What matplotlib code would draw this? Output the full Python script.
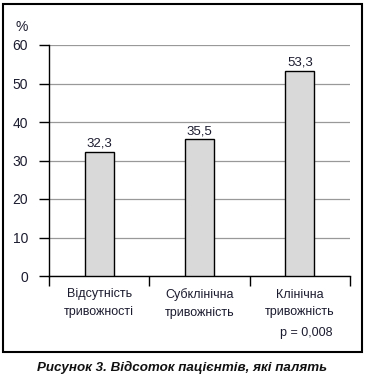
import matplotlib
matplotlib.use("Agg")
import matplotlib.pyplot as plt
from matplotlib.patches import Rectangle

categories = ["Відсутність\nтривожності", "Субклінічна\nтривожність", "Клінічна\nтривожність"]
values = [32.3, 35.5, 53.3]
value_labels = ["32,3", "35,5", "53,3"]
y_ticks = [0, 10, 20, 30, 40, 50, 60]

plt.rcParams['font.family'] = ['Liberation Sans', 'DejaVu Sans']
text_color = '#1c1c30'

fig = plt.figure(figsize=(3.65, 3.76), dpi=100)
ax = fig.add_axes([49 / 365, 1 - 276 / 376, 301 / 365, 231 / 376])

x = range(len(categories))
ax.bar(x, values, width=0.29, color='#d9d9d9', edgecolor='black', linewidth=1, zorder=3)
for xi, v, lab in zip(x, values, value_labels):
    ax.text(xi, v + 0.6, lab, ha='center', va='bottom', fontsize=9.5, color=text_color)

ax.set_xlim(-0.5, 2.5)
ax.set_ylim(0, 60)
ax.set_yticks(y_ticks)
ax.set_yticklabels([str(t) for t in y_ticks], fontsize=10, color=text_color)
ax.yaxis.grid(True, color='#999999', linewidth=0.9, zorder=0)
ax.tick_params(axis='y', length=7, width=1, pad=8)

# category boundaries as ticks, labels on minor ticks
ax.set_xticks([-0.5, 0.5, 1.5, 2.5])
ax.set_xticklabels([])
ax.set_xticks(list(x), minor=True)
ax.set_xticklabels(categories, minor=True, fontsize=9, color=text_color, linespacing=1.65)
ax.tick_params(axis='x', which='major', length=7, width=1)
ax.tick_params(axis='x', which='minor', length=0, pad=9)

for side in ['top', 'right']:
    ax.spines[side].set_visible(False)
ax.spines['left'].set_linewidth(1)
ax.spines['bottom'].set_linewidth(1)

fig.text(22 / 365, 1 - 27 / 376, "%", ha='center', va='center', fontsize=10, color=text_color)
fig.text(332 / 365, 1 - 333 / 376, "p = 0,008", ha='right', va='center', fontsize=9, color=text_color)

fig.patches.append(Rectangle((3 / 365, 1 - 352 / 376), 359 / 365, 348 / 376,
                             transform=fig.transFigure, fill=False,
                             edgecolor='black', linewidth=1.5))

fig.text(182 / 365, 1 - 367 / 376, "Рисунок 3. Відсоток пацієнтів, які палять",
         ha='center', va='center', fontsize=9.6, fontweight='bold', fontstyle='italic',
         color='#111111')

fig.savefig("out.png", dpi=100)
